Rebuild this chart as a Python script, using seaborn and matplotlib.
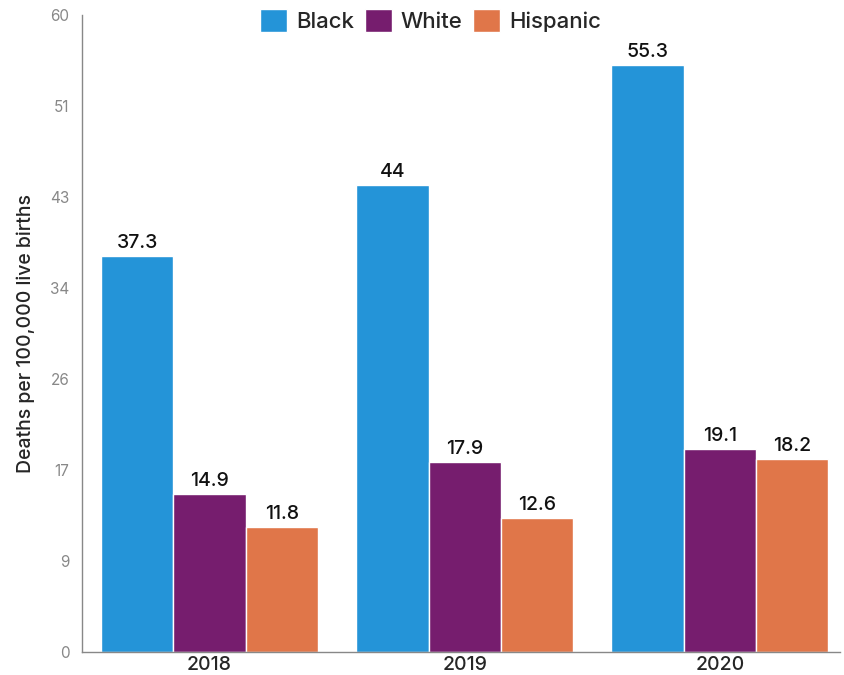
import numpy as np
import pandas as pd
import matplotlib.pyplot as plt
import seaborn as sns

years = ['2018', '2019', '2020']
groups = ['Black', 'White', 'Hispanic']
black = [37.3, 44, 55.3]
white = [14.9, 17.9, 19.1]
hispanic = [11.8, 12.6, 18.2]
labels = [['37.3', '44', '55.3'], ['14.9', '17.9', '19.1'], ['11.8', '12.6', '18.2']]
colors = ['#2494D8', '#761D6E', '#E07649']

df = pd.DataFrame({
    'year': years * 3,
    'group': [g for g in groups for _ in years],
    'rate': black + white + hispanic,
})

sns.set_style('white')
plt.rcParams['font.family'] = ['Inter', 'DejaVu Sans']

fig = plt.figure(figsize=(8.44, 6.75), dpi=100)
ax = fig.add_axes([0.097, 0.034, 0.898, 0.944])

sns.barplot(data=df, x='year', y='rate', hue='group', palette=colors,
            width=0.85, gap=0, saturation=1, ax=ax)

for cont, labs in zip(ax.containers, labels):
    ax.bar_label(cont, labels=labs, padding=3, fontsize=14, color='#111111',
                 fontweight='medium')

ax.set_ylim(0, 60)
ax.set_xlim(-0.5, 2.47)
ticks = np.linspace(0, 60, 8)
ax.set_yticks(ticks)
ax.set_yticklabels([str(int(round(t))) for t in ticks], color='#888888', fontsize=11)
ax.tick_params(axis='x', labelsize=14, length=0, pad=3)
for t in ax.get_xticklabels():
    t.set_fontweight('medium')
ax.tick_params(axis='y', length=0, pad=9)
ax.set_xlabel('')
ax.set_ylabel('Deaths per 100,000 live births', fontsize=14, labelpad=11,
              fontweight='medium')

sns.despine(ax=ax, top=True, right=True)
for s in ['left', 'bottom']:
    ax.spines[s].set_color('#888888')
    ax.spines[s].set_linewidth(1)

leg = ax.legend(loc='upper center', bbox_to_anchor=(0.46, 1.04), ncol=3, frameon=False,
                fontsize=16, handlelength=1.2, handleheight=1.2, columnspacing=0.5,
                handletextpad=0.4)
for t in leg.get_texts():
    t.set_fontweight('medium')

fig.savefig('out.png', dpi=100)
